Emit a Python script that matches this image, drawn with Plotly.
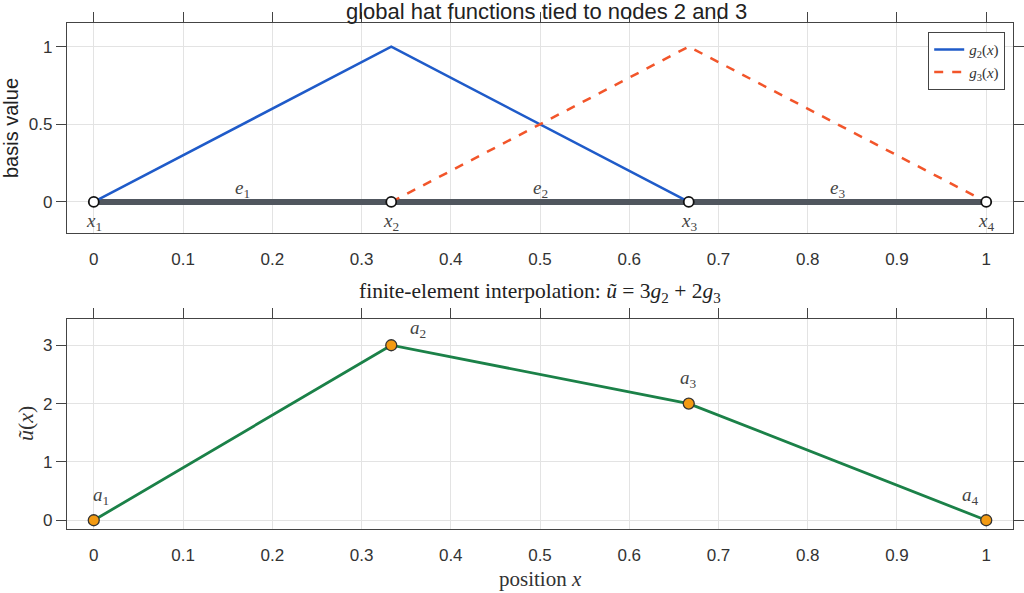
import plotly.graph_objects as go

nodes = [0, 1/3, 2/3, 1]
node_labels = ["x<sub>1</sub>", "x<sub>2</sub>", "x<sub>3</sub>", "x<sub>4</sub>"]
g2_x = [0, 1/3, 2/3]
g2_y = [0, 1, 0]
g3_x = [1/3, 2/3, 1]
g3_y = [0, 1, 0]
elem_mid = [1/6, 1/2, 5/6]
elem_labels = ["e<sub>1</sub>", "e<sub>2</sub>", "e<sub>3</sub>"]
coeffs = [0, 3, 2, 0]
coef_labels = ["a<sub>1</sub>", "a<sub>2</sub>", "a<sub>3</sub>", "a<sub>4</sub>"]
xticks = [0, 0.1, 0.2, 0.3, 0.4, 0.5, 0.6, 0.7, 0.8, 0.9, 1]
xtick_text = ["0", "0.1", "0.2", "0.3", "0.4", "0.5", "0.6", "0.7", "0.8", "0.9", "1"]

BLUE = "#1f5bc9"
RED = "#f2552a"
GREEN = "#1b8148"
ORANGE = "#f39a12"
BAR = "#50565e"
FRAME = "#444444"
GRID = "#e3e3e3"
SERIF = "Liberation Serif, Times New Roman, serif"
SANS = "Liberation Sans, Arial, sans-serif"

W, H = 1024, 593


def px(x):
    return x / W


def py(y):
    return 1 - y / H


def ital_sub(t):
    return "<i>" + t.replace("<sub>", "</i><sub>")


fig = go.Figure()

# top panel
fig.add_trace(go.Scatter(x=[nodes[0], nodes[-1]], y=[0, 0], mode="lines",
                         line=dict(color=BAR, width=6), showlegend=False,
                         hoverinfo="skip", xaxis="x", yaxis="y"))
fig.add_trace(go.Scatter(x=g2_x, y=g2_y, mode="lines", name="<i>g</i><sub>2</sub>(<i>x</i>)",
                         line=dict(color=BLUE, width=2.5), xaxis="x", yaxis="y"))
fig.add_trace(go.Scatter(x=g3_x, y=g3_y, mode="lines", name="<i>g</i><sub>3</sub>(<i>x</i>)",
                         line=dict(color=RED, width=2.5, dash="dash"), xaxis="x", yaxis="y"))
fig.add_trace(go.Scatter(x=nodes, y=[0] * len(nodes), mode="markers",
                         marker=dict(color="white", size=10, line=dict(color="#111111", width=1.8)),
                         showlegend=False, xaxis="x", yaxis="y"))

# bottom panel
fig.add_trace(go.Scatter(x=nodes, y=coeffs, mode="lines+markers",
                         line=dict(color=GREEN, width=2.8),
                         marker=dict(color=ORANGE, size=11, line=dict(color="#333333", width=1.3)),
                         showlegend=False, xaxis="x2", yaxis="y2"))

LBL = dict(family=SERIF, size=19, color="#444444")
C = dict(showarrow=False, xanchor="center", yanchor="middle")
ann = []
for xv, t in zip(nodes, node_labels):
    ann.append(dict(x=xv, y=-0.13, xref="x", yref="y", text=ital_sub(t), font=LBL, **C))
for xv, t in zip(elem_mid, elem_labels):
    ann.append(dict(x=xv, y=0.085, xref="x", yref="y", text=ital_sub(t), font=LBL, **C))
coef_pos = [(0.008, 0.42), (0.363, 3.28), (0.666, 2.42), (0.982, 0.42)]
for (xv, yv), t in zip(coef_pos, coef_labels):
    ann.append(dict(x=xv, y=yv, xref="x2", yref="y2", text=ital_sub(t), font=LBL, **C))

ann.append(dict(x=px(546), y=py(11), xref="paper", yref="paper",
                text="global hat functions tied to nodes 2 and 3",
                font=dict(family=SANS, size=22, color="#222222"), **C))
ann.append(dict(x=px(540), y=py(292), xref="paper", yref="paper",
                text="finite-element interpolation: <i>ũ</i> = 3<i>g</i><sub>2</sub> + 2<i>g</i><sub>3</sub>",
                font=dict(family=SERIF, size=21.5, color="#222222"), **C))
ann.append(dict(x=px(11), y=py(128), xref="paper", yref="paper", text="basis value",
                textangle=-90, font=dict(family=SANS, size=20, color="#222222"), **C))
ann.append(dict(x=px(25), y=py(424), xref="paper", yref="paper", text="<i>ũ</i>(<i>x</i>)",
                textangle=-90, font=dict(family=SERIF, size=22, color="#333333"), **C))
ann.append(dict(x=px(540), y=py(579), xref="paper", yref="paper", text="position <i>x</i>",
                font=dict(family=SERIF, size=21, color="#333333"), **C))

xdom = [px(67), px(1013)]
xr = [-0.03, 1.03]
common_x = dict(domain=xdom, range=xr, tickvals=xticks, ticktext=xtick_text, showgrid=True,
                gridcolor=GRID, gridwidth=1, zeroline=False, showline=True, linecolor=FRAME,
                linewidth=1.3, mirror=True, ticks="outside", ticklen=10, tickcolor="rgba(0,0,0,0)",
                automargin=False, tickfont=dict(family=SANS, size=17, color="#333333"))
top_x = dict(domain=xdom, range=xr, tickvals=xticks, showticklabels=False, showgrid=False,
             zeroline=False, ticks="outside", ticklen=10, tickcolor=FRAME, tickwidth=1.2,
             side="top", automargin=False)
common_y = dict(showgrid=True, gridcolor=GRID, gridwidth=1, zeroline=False, showline=True,
                linecolor=FRAME, linewidth=1.3, mirror="ticks", ticks="outside", ticklen=10,
                tickcolor=FRAME, tickwidth=1.2, automargin=False,
                tickfont=dict(family=SANS, size=17, color="#333333"))

fig.update_layout(
    width=W, height=H,
    margin=dict(l=0, r=0, t=0, b=0),
    paper_bgcolor="white", plot_bgcolor="white",
    showlegend=True,
    legend=dict(x=px(1005), y=py(32), xanchor="right", yanchor="top",
                xref="paper", yref="paper", bgcolor="white", bordercolor=FRAME, borderwidth=1.2,
                font=dict(family=SERIF, size=15, color="#333333"), tracegroupgap=0),
    xaxis=dict(**common_x, anchor="y"),
    yaxis=dict(**common_y, domain=[py(233), py(23)], range=[-0.2, 1.152],
               tickvals=[0, 0.5, 1], ticktext=["0", "0.5", "1"], anchor="x"),
    xaxis3=dict(**top_x, anchor="y", overlaying="x"),
    xaxis2=dict(**common_x, anchor="y2"),
    yaxis2=dict(**common_y, domain=[py(529), py(319)], range=[-0.15, 3.45],
                tickvals=[0, 1, 2, 3], anchor="x2"),
    xaxis4=dict(**top_x, anchor="y2", overlaying="x2"),
    annotations=ann,
)

fig.add_trace(go.Scatter(x=[None], y=[None], xaxis="x3", yaxis="y", showlegend=False, hoverinfo="skip"))
fig.add_trace(go.Scatter(x=[None], y=[None], xaxis="x4", yaxis="y2", showlegend=False, hoverinfo="skip"))

fig.write_html("out.html", config={"displayModeBar": False},
               post_script="document.body.style.margin='0';document.body.style.overflow='hidden';")
